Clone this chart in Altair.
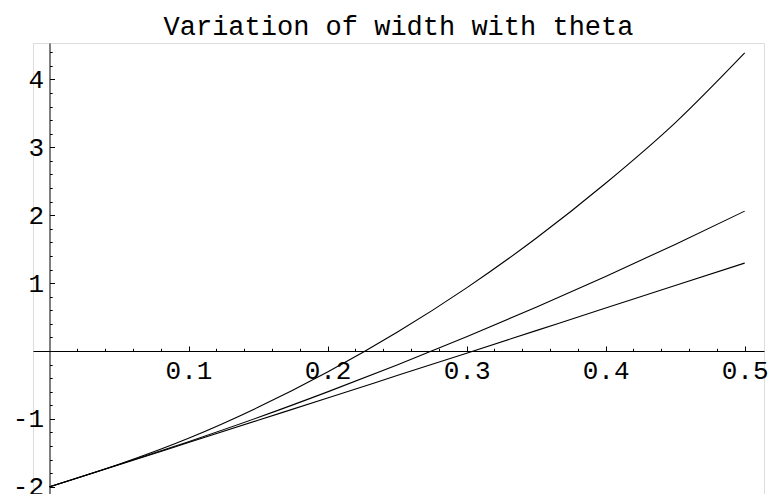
import altair as alt
import pandas as pd

# theta samples and the three curves
theta = [0.0, 0.05, 0.10, 0.15, 0.20, 0.25, 0.30, 0.35, 0.40, 0.45, 0.50]
curve_top = [-2.00, -1.668, -1.285, -0.83, -0.31, 0.275, 0.93, 1.66, 2.47, 3.36, 4.39]
curve_mid = [-2.00, -1.672, -1.335, -0.98, -0.602, -0.205, 0.21, 0.644, 1.097, 1.57, 2.06]
curve_low = [-2.00, -1.676, -1.348, -1.02, -0.692, -0.362, -0.032, 0.30, 0.632, 0.966, 1.295]

x_major = [0.1, 0.2, 0.3, 0.4, 0.5]
x_minor = [round(0.02 * i, 2) for i in range(1, 26) if i % 5 != 0]
y_major = [-2, -1, 1, 2, 3, 4]
y_minor = [round(-2 + 0.2 * i, 1) for i in range(0, 34) if i % 5 != 0]

rows = []
for name, vals in (("a", curve_top), ("b", curve_mid), ("c", curve_low)):
    for t, v in zip(theta, vals):
        rows.append({"theta": t, "value": v, "series": name})
df = pd.DataFrame(rows)

FONT = "Liberation Mono"
FS = 26

x_scale = alt.Scale(domain=[-0.01186, 0.5139], nice=False, zero=False)
y_scale = alt.Scale(domain=[-2.106, 4.536], nice=False, zero=False)

W, H = 731, 451
X0 = 16.5   # pixel of theta=0 from plot left
Y0 = 308    # pixel of value=0 from plot top

common = dict(grid=False, title=None, tickColor="black", domainColor="black",
              tickWidth=1, domainWidth=1, labelOverlap=False, labelFlush=False,
              labelBound=False)

base = alt.Chart(df)

lines = base.mark_line(color="black", strokeWidth=1.1, interpolate="monotone").encode(
    x=alt.X("theta:Q", scale=x_scale,
            axis=alt.Axis(orient="top", offset=-Y0, values=x_major, tickSize=5,
                          labels=False, domain=True, **common)),
    y=alt.Y("value:Q", scale=y_scale,
            axis=alt.Axis(orient="right", offset=-(W - X0), values=y_major, tickSize=5,
                          labels=False, domain=True, **common)),
    detail="series:N",
)

minor = base.mark_line(opacity=0).encode(
    x=alt.X("theta:Q", scale=x_scale,
            axis=alt.Axis(orient="top", offset=-Y0, values=x_minor, tickSize=2.7,
                          labels=False, domain=False, **common)),
    y=alt.Y("value:Q", scale=y_scale,
            axis=alt.Axis(orient="right", offset=-(W - X0), values=y_minor, tickSize=2.7,
                          labels=False, domain=False, **common)),
    detail="series:N",
)

labels = base.mark_line(opacity=0).encode(
    x=alt.X("theta:Q", scale=x_scale,
            axis=alt.Axis(orient="bottom", offset=-(H - Y0), values=x_major, ticks=False,
                          domain=False, labels=True, format=".1f", labelFont=FONT,
                          labelFontSize=FS, labelColor="black", labelPadding=6,
                          labelBaseline="top", **common)),
    y=alt.Y("value:Q", scale=y_scale,
            axis=alt.Axis(orient="left", offset=-X0, values=y_major, ticks=False,
                          domain=False, labels=True, labelFont=FONT, labelFontSize=FS,
                          labelColor="black", labelPadding=6,
                          labelExpr="(datum.value < 0 ? '-' : '') + format(abs(datum.value), 'd')",
                          **common)),
    detail="series:N",
)

chart = (
    alt.layer(lines, minor, labels)
    .resolve_axis(x="independent", y="independent")
    .properties(
        width=W, height=H,
        autosize=alt.AutoSizeParams(type="none"),
        padding={"left": 25, "top": 35, "right": 5, "bottom": 12},
        title=alt.Title("Variation of width with theta", font=FONT, fontSize=27,
                        fontWeight="normal", color="black", anchor="middle",
                        frame="group", baseline="alphabetic", offset=-19),
    )
    .configure_view(stroke=None)
    .configure(background="white")
)

chart.save("out.html", embed_options={"renderer": "svg", "actions": False})
